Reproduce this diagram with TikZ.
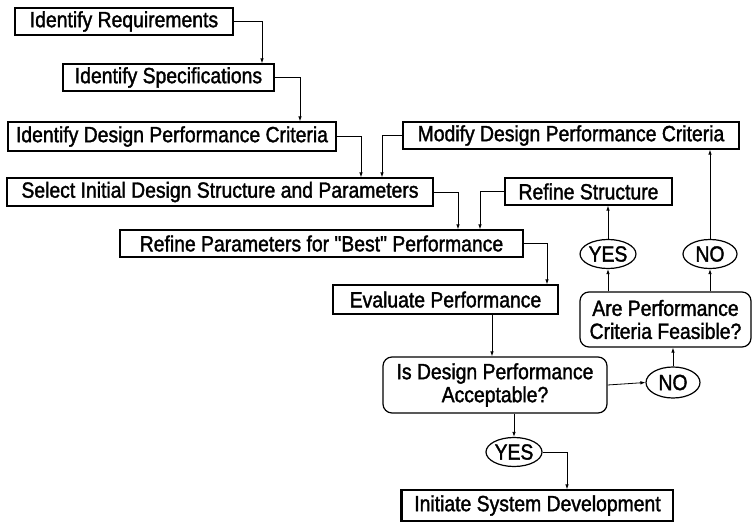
\documentclass[tikz,border=0pt]{standalone}
\usepackage{fontspec}
\newfontfamily\flowfont{Liberation Sans}[FakeStretch=0.88, FakeBold=1.6]
\usepackage{tikz}
\usetikzlibrary{arrows.meta, shapes.geometric}

\begin{document}
\begin{tikzpicture}[x=1pt, y=-1pt,
        stagebox/.style={draw, line width=1.2pt, inner sep=0pt, font=\flowfont\fontsize{22}{23}\selectfont},
        askbox/.style={draw, line width=1.2pt, rounded corners=9pt, align=center, inner sep=0pt, font=\flowfont\fontsize{22}{23}\selectfont},
        answer/.style={draw, ellipse, line width=1.2pt, inner xsep=0.4pt, inner ysep=2.3pt, font=\flowfont\fontsize{22}{23}\selectfont},
        flow/.style={-{Latex[length=5pt, width=3.5pt]}, line width=0.8pt}]

        \useasboundingbox (0,0) rectangle (752,524);

        % Boxes
        \node[stagebox, minimum width=218pt, minimum height=27pt] (req) at (124,21.5) {Identify Requirements};
        \node[stagebox, minimum width=211pt, minimum height=27pt] (spec) at (168.5,77.5) {Identify Specifications};
        \node[stagebox, minimum width=328pt, minimum height=29pt] (crit) at (172,136.5) {Identify Design Performance Criteria};
        \node[stagebox, minimum width=336pt, minimum height=27pt] (modify) at (571,135.5) {Modify Design Performance Criteria};
        \node[stagebox, minimum width=426pt, minimum height=28pt] (select) at (220,192) {Select Initial Design Structure and Parameters};
        \node[stagebox, minimum width=167pt, minimum height=27pt] (refstruct) at (588.5,191.5) {Refine Structure};
        \node[stagebox, minimum width=403pt, minimum height=27pt] (params) at (321.5,243.5) {Refine Parameters for "Best" Performance};
        \node[stagebox, minimum width=225pt, minimum height=29pt] (eval) at (445.5,299.5) {Evaluate Performance};
        \node[stagebox, minimum width=271pt, minimum height=31pt] (init) at (537.5,505.5) {Initiate System Development};
        \draw[line width=3.5pt] (init.north west) -- (init.south west);

        % Questions
        \node[askbox, minimum width=171pt, minimum height=55pt] (feasible) at (665.5,319.5) {Are Performance\\Criteria Feasible?};
        \node[askbox, minimum width=224pt, minimum height=56pt] (isdesign) at (495,385) {Is Design Performance\\Acceptable?};

        % Answers
        \node[answer, minimum width=55pt, minimum height=29pt] (yes1) at (608,254) {YES};
        \node[answer, minimum width=54pt, minimum height=29pt] (no1) at (710,254) {NO};
        \node[answer, minimum width=54pt, minimum height=31pt] (no2) at (673,382.5) {NO};
        \node[answer, minimum width=56pt, minimum height=29pt] (yes2) at (514,452) {YES};

        % Connectors
        \draw[flow] (req.east) -| ([xshift=93.5pt]spec.north);
        \draw[flow] (spec.east) -| ([xshift=128pt]crit.north);
        \draw[flow] (crit.east) -| ([xshift=141pt]select.north);
        \draw[flow] (modify.west) -| ([xshift=162pt]select.north);
        \draw[flow] (select.east) -| ([xshift=136.5pt]params.north);
        \draw[flow] (refstruct.west) -| ([xshift=158.5pt]params.north);
        \draw[flow] (params.east) -| ([xshift=101.5pt]eval.north);
        \draw[flow] ([xshift=46.5pt]eval.south) -- ([xshift=-3pt]isdesign.north);
        \draw[flow] (isdesign.east) -- (no2.west);
        \draw[flow] (no2.north) -- (no2.north |- feasible.south);
        \draw[flow] (yes1.south |- feasible.north) -- (yes1.south);
        \draw[flow] (no1.south |- feasible.north) -- (no1.south);
        \draw[flow] (yes1.north) -- (yes1.north |- refstruct.south);
        \draw[flow] (no1.north) -- (no1.north |- modify.south);
        \draw[flow] (yes2.north |- isdesign.south) -- (yes2.north);
        \draw[flow] (yes2.east) -| ([xshift=29.5pt]init.north);

    \end{tikzpicture}
\end{document}
